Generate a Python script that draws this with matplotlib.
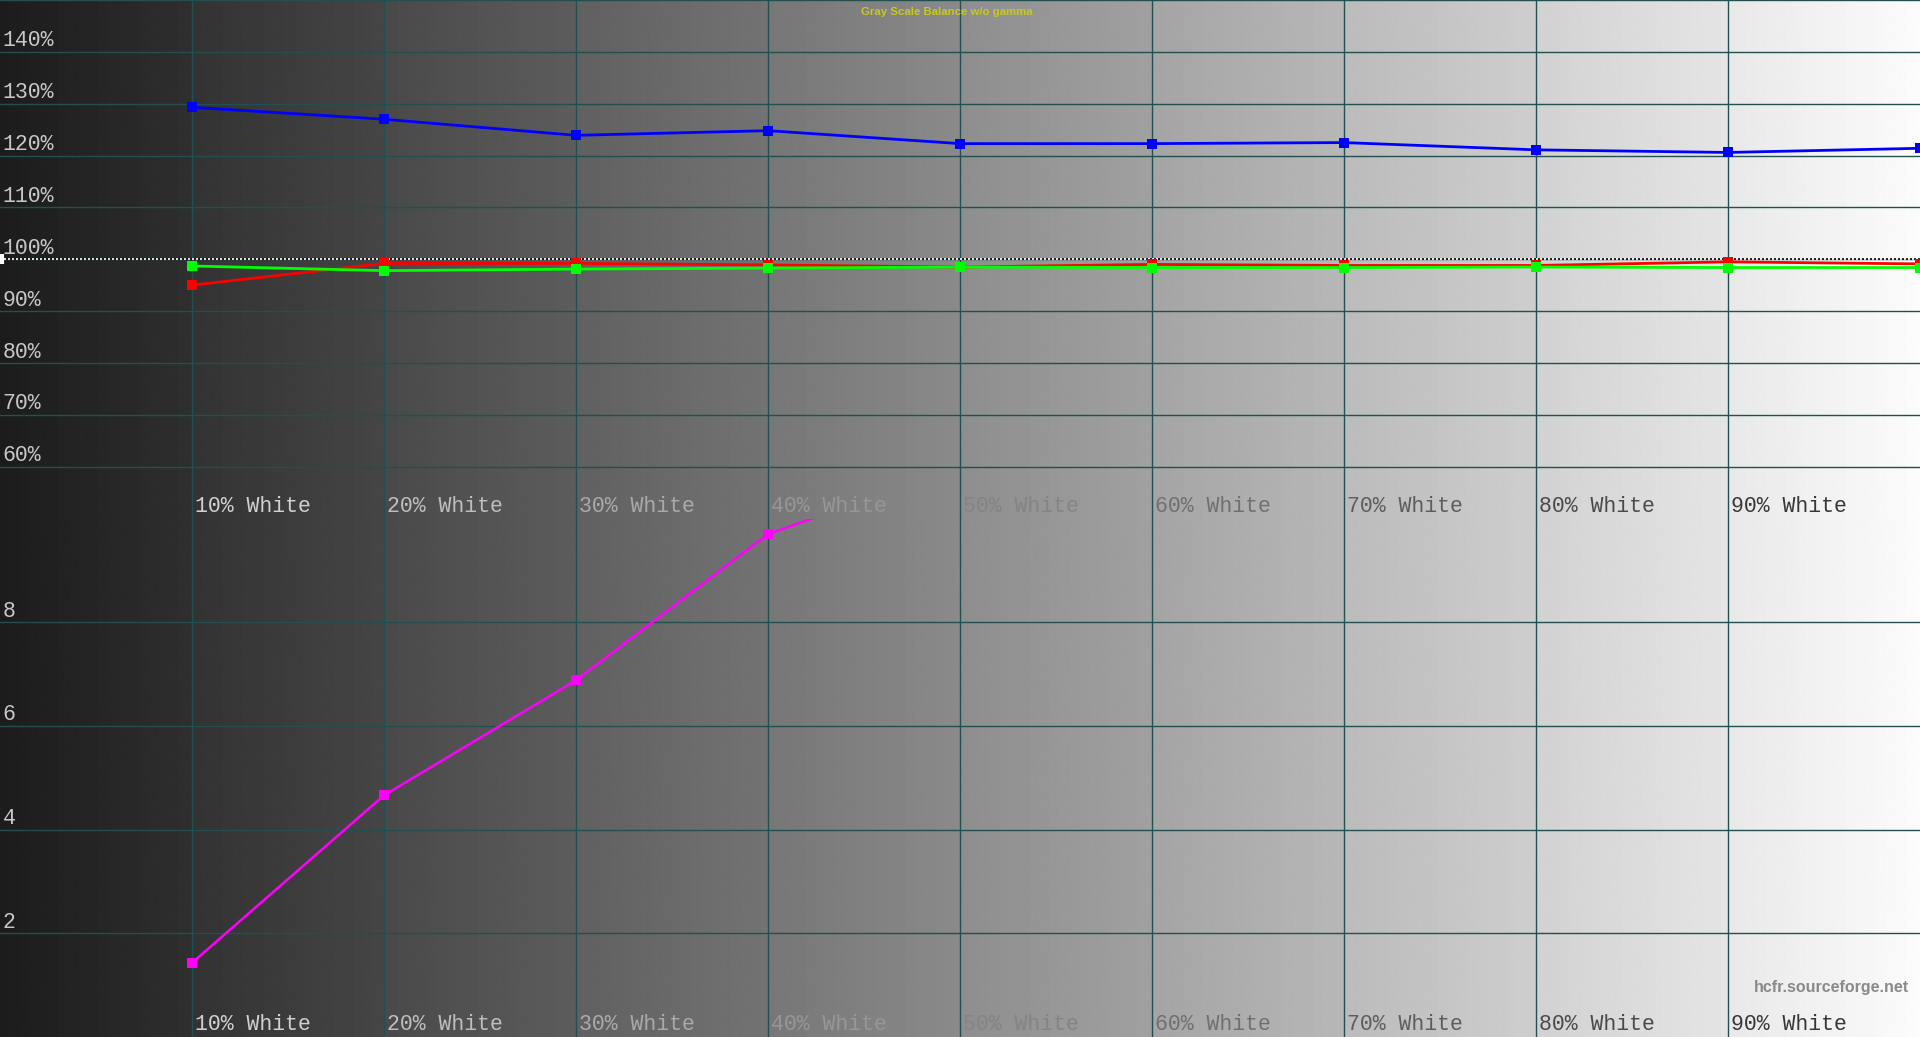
import numpy as np
import matplotlib.pyplot as plt
import matplotlib.transforms as mtransforms
from matplotlib import font_manager

# measurement steps (% stimulus)
steps = [10, 20, 30, 40, 50, 60, 70, 80, 90, 100]
step_labels = ['10% White', '20% White', '30% White', '40% White', '50% White',
               '60% White', '70% White', '80% White', '90% White']

# RGB balance (% of target)
red = [95.0, 99.2, 99.2, 98.9, 98.5, 99.0, 98.8, 98.8, 99.5, 99.1]
green = [98.7, 97.8, 98.1, 98.3, 98.5, 98.4, 98.4, 98.5, 98.4, 98.4]
blue = [129.3, 127.0, 123.9, 124.8, 122.3, 122.3, 122.5, 121.1, 120.6, 121.4]

# lower panel (magenta curve, clipped above 10)
lum_steps = [10, 20, 30, 40, 50]
lum = [1.43, 4.66, 6.88, 9.70, 11.0]

upper_ticks = [60, 70, 80, 90, 100, 110, 120, 130, 140]
lower_ticks = [2, 4, 6, 8]

installed = {f.name for f in font_manager.fontManager.ttflist}
mono = 'Liberation Mono' if 'Liberation Mono' in installed else 'DejaVu Sans Mono'
sans = 'Liberation Sans' if 'Liberation Sans' in installed else 'DejaVu Sans'


def bg_gray(x):
    band = np.clip(np.floor(x / 10), 0, 9)
    return 0.11 + 0.089 * band + 0.0075 * (x - 10 * band)


def label_gray(x):
    g = 1.02 - 0.85 * bg_gray(x)
    return (g, g, g)


fig = plt.figure(figsize=(19.2, 10.37), dpi=100)

# background gradient
bg = fig.add_axes([0, 0, 1, 1])
xs = np.linspace(0, 100, 2000)
bg.imshow(bg_gray(xs)[None, :], cmap='gray', vmin=0, vmax=1, aspect='auto',
          extent=(0, 100, 0, 1), interpolation='bilinear')
bg.set_axis_off()

grid_col = '#23504f'
top = fig.add_axes([0, 0.5, 1, 0.5])
low = fig.add_axes([0, 0, 1, 0.5])

for ax in (top, low):
    ax.patch.set_alpha(0)
    ax.set_xlim(0, 100)
    ax.set_xticks(steps[:-1])
    for s in ax.spines.values():
        s.set_visible(False)
    ax.tick_params(left=False, bottom=False, labelleft=False, labelbottom=False)
    ax.grid(True, color=grid_col, lw=1.0)
    ax.set_axisbelow(True)

top.set_ylim(50, 150)
top.set_yticks(upper_ticks + [150])
low.set_ylim(0, 10)
low.set_yticks(lower_ticks)

# 100% reference: white/black dotted line
top.plot([0, 100], [100, 100], color='white', lw=1.2, dashes=(1.2, 1.2), zorder=2)
top.plot([0, 100], [100, 100], color='#111111', lw=1.2, linestyle=(1.2, (1.2, 1.2)), zorder=2)
top.plot([0.12], [100], marker='|', color='white', ms=7, mew=3, zorder=3, clip_on=False)

mk = dict(marker='s', ms=6.5, mew=0)
top.plot(steps, blue, color='#0000ff', lw=2.0, zorder=4, **mk)
top.plot(steps, red, color='#ff0000', lw=2.0, zorder=5, **mk)
top.plot(steps, green, color='#00ff00', lw=2.0, zorder=6, **mk)
low.plot(lum_steps, lum, color='#ff00ff', lw=1.8, zorder=4, **mk)

# y labels sitting just above the grid lines
for v in upper_ticks:
    top.annotate(f'{v}%', xy=(0, v), xytext=(2, 0.3), textcoords='offset points',
                 ha='left', va='bottom', fontsize=15.5, family=mono, color='#c8c8c8')
for v in lower_ticks:
    low.annotate(f'{v}', xy=(0, v), xytext=(2, 0.3), textcoords='offset points',
                 ha='left', va='bottom', fontsize=15.5, family=mono, color='#c8c8c8')

# step labels at the bottom of each panel
for ax in (top, low):
    trans = mtransforms.blended_transform_factory(ax.transData, ax.transAxes)
    for s, lab in zip(steps[:-1], step_labels):
        ax.annotate(lab, xy=(s, 0), xycoords=trans, xytext=(2, 5),
                    textcoords='offset points', ha='left', va='baseline',
                    fontsize=15.5, family=mono, color=label_gray(s + 5))

fig.text(0.493, 0.988, 'Gray Scale Balance w/o gamma', ha='center', va='center',
         fontsize=8.2, color='#c8c81e', family=sans, fontweight='bold')
fig.text(0.9945, 0.048, 'hcfr.sourceforge.net', ha='right', va='center',
         fontsize=11.5, color='#8a8a8a', family=sans, fontweight='bold')

fig.savefig('out.png', dpi=100)
